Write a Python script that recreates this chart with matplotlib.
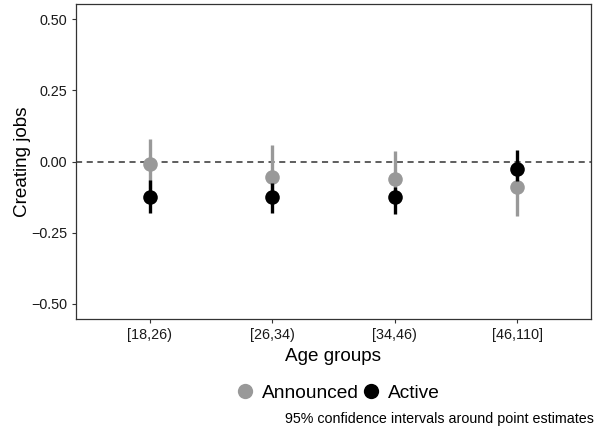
import numpy as np
import matplotlib
matplotlib.use('Agg')
import matplotlib.pyplot as plt
from matplotlib.lines import Line2D

plt.rcParams['font.family'] = ['Liberation Sans', 'DejaVu Sans']

groups = ['[18,26)', '[26,34)', '[34,46)', '[46,110]']
announced_est = [-0.010, -0.053, -0.060, -0.090]
announced_lo = [-0.095, -0.110, -0.115, -0.190]
announced_hi = [0.080, 0.057, 0.036, -0.010]
active_est = [-0.123, -0.125, -0.125, -0.025]
active_lo = [-0.180, -0.180, -0.185, -0.068]
active_hi = [-0.065, -0.077, -0.090, 0.039]

GREY, BLACK = '#999999', '#000000'

fig = plt.figure(figsize=(6.02, 4.36), dpi=100)
ax = fig.add_axes([0.1262, 0.2683, 0.8555, 0.7225])
x = np.arange(1, len(groups) + 1)

ax.axhline(0, color='#333333', ls=(0, (4, 3)), lw=1.1, zorder=1)
for est, lo, hi, c, z in [(announced_est, announced_lo, announced_hi, GREY, 2),
                          (active_est, active_lo, active_hi, BLACK, 3)]:
    ax.vlines(x, lo, hi, color=c, lw=2.4, zorder=z)
    ax.plot(x, est, 'o', color=c, ms=10.5, mec='none', zorder=z)

ax.set_xlim(0.4, 4.6)
ax.set_ylim(-0.553, 0.553)
ax.set_xticks(x)
ax.set_xticklabels(groups)
ax.set_yticks([-0.5, -0.25, 0, 0.25, 0.5])
ax.set_yticklabels(['\u22120.50', '\u22120.25', '0.00', '0.25', '0.50'])
ax.tick_params(labelsize=10.4, colors='#333333', length=3, width=0.8, labelcolor='#1a1a1a')
for s in ax.spines.values():
    s.set_color('#333333')
    s.set_linewidth(0.9)
ax.set_xlabel('Age groups', fontsize=13.6, labelpad=4)
ax.set_ylabel('Creating jobs', fontsize=13.6, va='center')
ax.yaxis.set_label_coords(-0.104, 0.5)

handles = [Line2D([], [], marker='o', ls='none', color=GREY, ms=11, mec='none'),
           Line2D([], [], marker='o', ls='none', color=BLACK, ms=11, mec='none')]
fig.legend(handles, ['Announced', 'Active'], loc='center', bbox_to_anchor=(0.559, 0.098),
           ncol=2, frameon=False, fontsize=13.8, handletextpad=0.3, columnspacing=0.0,
           handlelength=1.2)
fig.text(0.987, 0.039, '95% confidence intervals around point estimates',
         ha='right', va='center', fontsize=10.3)

fig.savefig('out.png', dpi=100)
